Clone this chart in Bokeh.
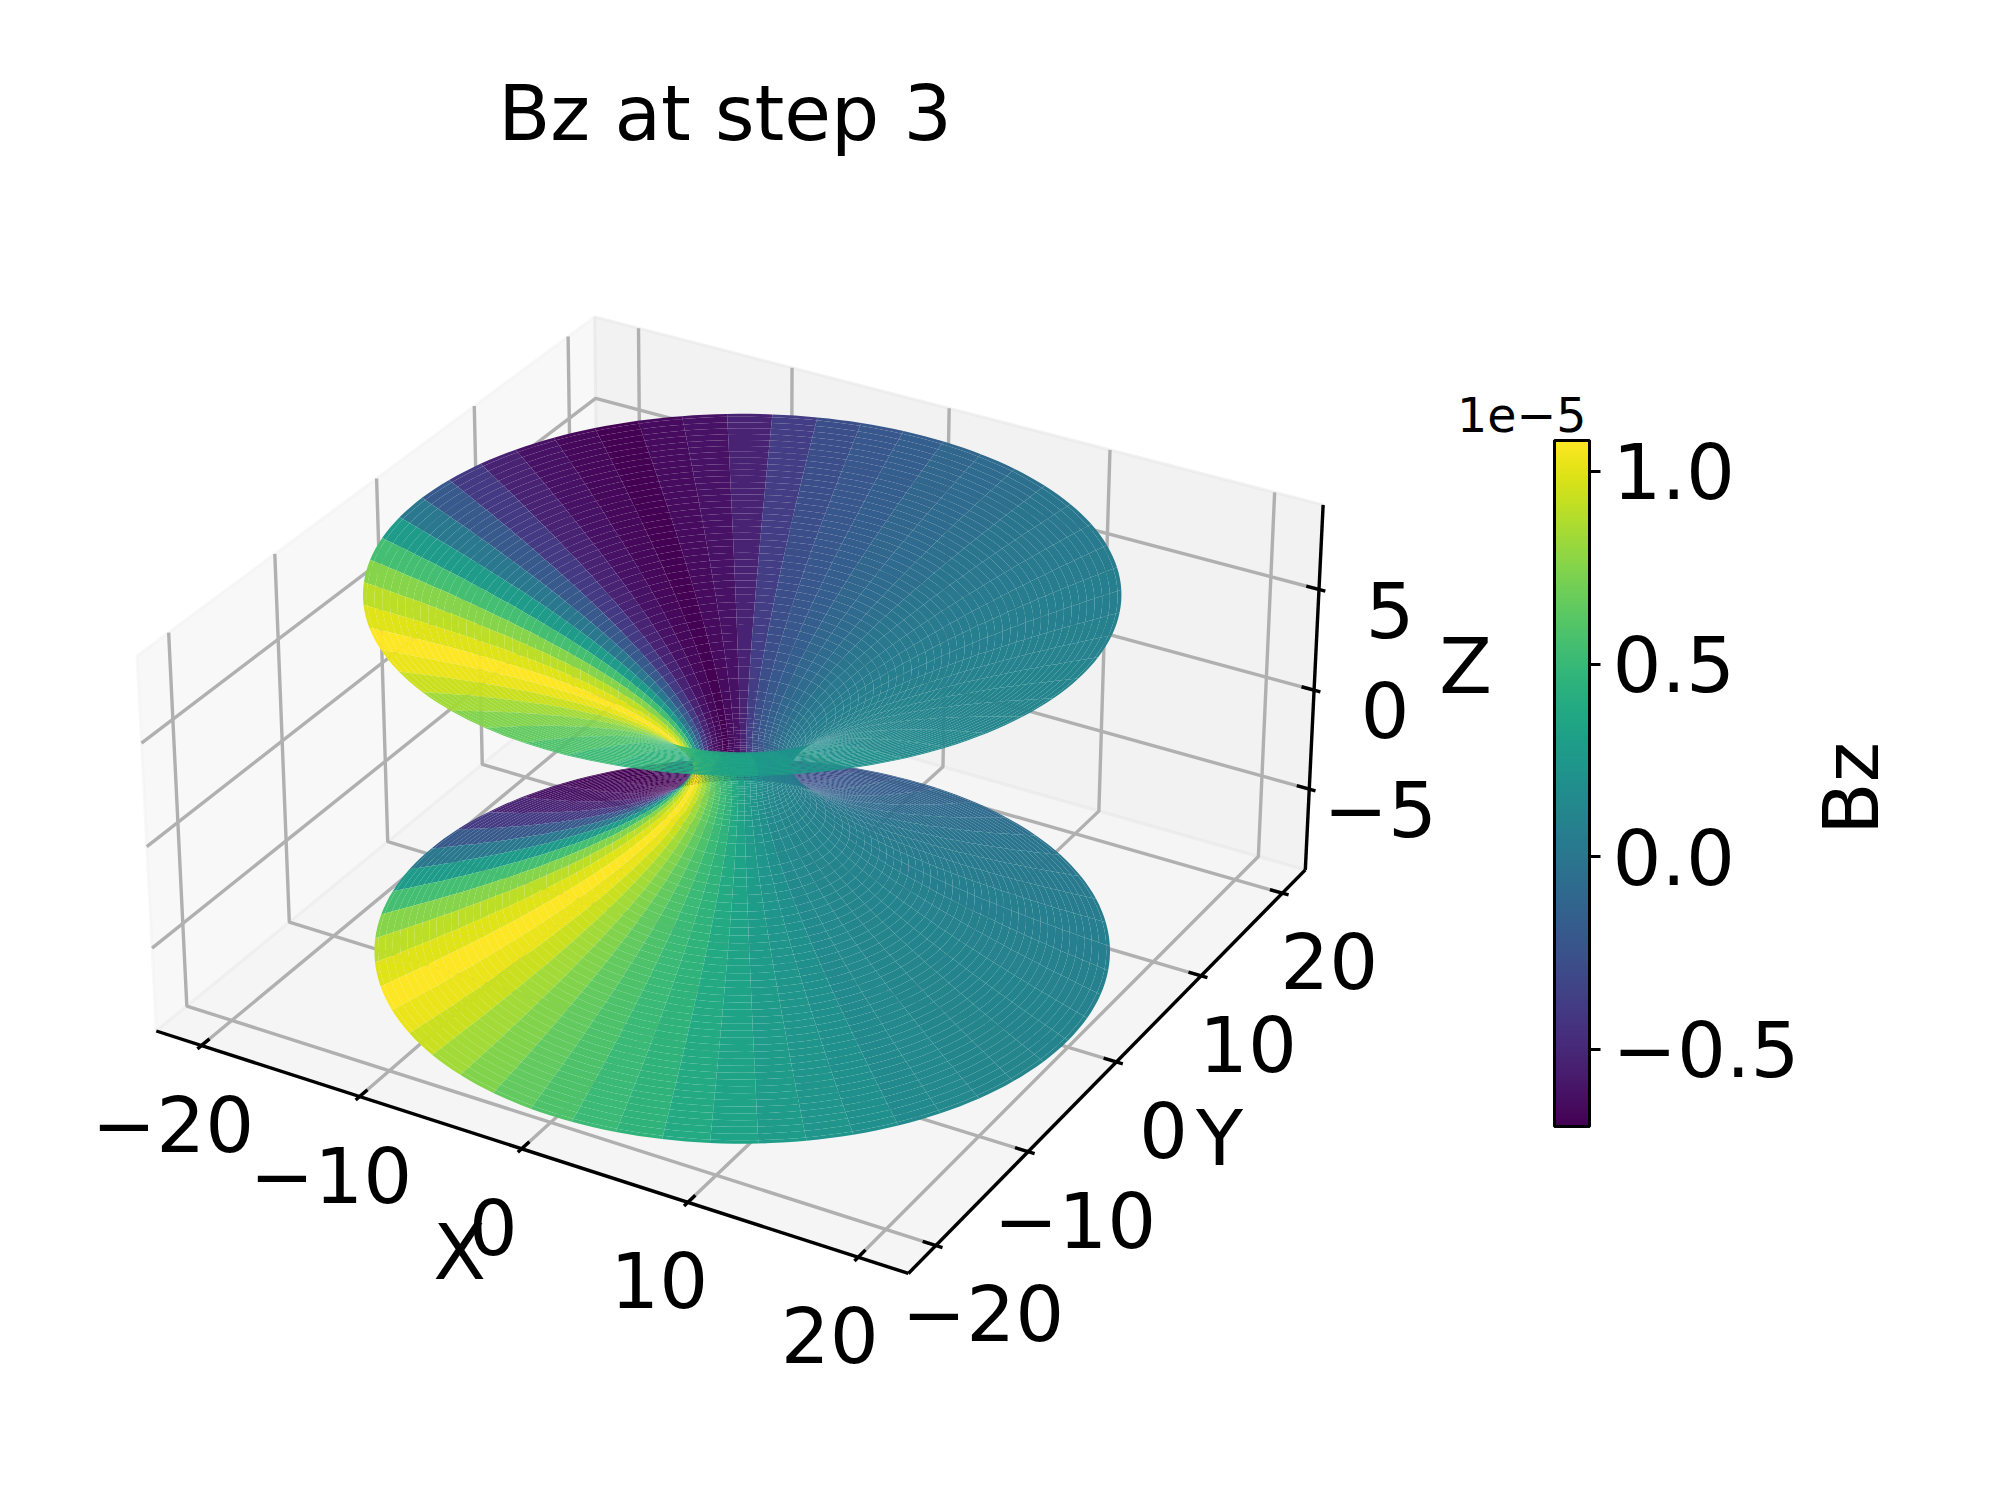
import math
from bokeh.plotting import figure
from bokeh.models import ColumnDataSource, Range1d, LinearColorMapper, ColorBar, FixedTicker
from bokeh.palettes import Viridis256
from bokeh.core.properties import value
from bokeh.embed import file_html
from bokeh.resources import INLINE

# ---- data -----------------------------------------------------------------
title_text = "Bz at step 3"
x_ticks = [-20, -10, 0, 10, 20]
y_ticks = [-20, -10, 0, 10, 20]
z_ticks = [-5, 0, 5]
x_tick_labels = ["\u221220", "\u221210", "0", "10", "20"]
y_tick_labels = ["\u221220", "\u221210", "0", "10", "20"]
z_tick_labels = ["\u22125", "0", "5"]
cbar_ticks = [-0.5, 0.0, 0.5, 1.0]
cbar_labels = {-0.5: "\u22120.5", 0.0: "0.0", 0.5: "0.5", 1.0: "1.0"}
bz_low, bz_high = -0.70, 1.08

# funnel profile: ring radius and ring height above the throat
ring_r = [2.60, 2.62, 2.65, 2.70, 2.76, 2.84, 2.94, 3.06, 3.2, 3.4, 3.7, 4.0, 4.5,
          5.0, 5.4, 5.8, 6.2, 6.6, 7.0, 7.4, 7.8, 8.2, 8.6, 9.0, 9.4, 9.8, 10.2, 10.6,
          11.0, 11.4, 11.8, 12.2, 12.6, 13.0, 13.4, 13.8, 14.2, 14.6, 15.0, 15.4, 15.8,
          16.2, 16.6, 17.0, 17.4, 17.8, 18.2, 18.6, 19.0, 19.4, 19.8, 20.0]
ring_z = [0.0, 0.15, 0.26, 0.40, 0.53, 0.67, 0.83, 0.99, 1.17, 1.39, 1.68, 1.94, 2.33,
          2.68, 2.94, 3.18, 3.42, 3.64, 3.86, 4.06, 4.26, 4.46, 4.65, 4.83, 5.01, 5.18, 5.35, 5.52,
          5.68, 5.85, 6.00, 6.16, 6.32, 6.46, 6.60, 6.75, 6.90, 7.04, 7.18, 7.32, 7.46,
          7.59, 7.72, 7.86, 7.99, 8.11, 8.24, 8.37, 8.49, 8.62, 8.74, 8.80]

# Bz (in 1e-5) for each of the 50 sectors round the axis, starting at phi = 0
sector_bz = [0.10, 0.09, 0.08, 0.07, 0.07, 0.05, 0.03, 0.01, -0.01, -0.04,
             -0.08, -0.11, -0.17, -0.22, -0.27, -0.38, -0.52, -0.61, -0.65, -0.70,
             -0.66, -0.61, -0.52, -0.40, -0.20, 0.01, 0.28, 0.55, 0.76, 0.90,
             0.99, 1.08, 1.03, 0.94, 0.83, 0.74, 0.65, 0.58, 0.51, 0.46,
             0.39, 0.33, 0.28, 0.23, 0.19, 0.15, 0.14, 0.12, 0.11, 0.10]

# ---- 3D view (elevation 30, azimuth -60, box aspect 2:2:1) ------------------
XL, ZL = 22.9, 9.14
BX, BZ = 1.2705, 0.6352
DIST = 10.0
U = (0.8660254, 0.5, 0.0)
V = (-0.25, 0.4330127, 0.8660254)
N = (0.4330127, -0.75, 0.5)


def project(x, y, z):
    qx, qy, qz = x / XL * BX / 2, y / XL * BX / 2, z / ZL * BZ / 2
    depth = DIST - (qx * N[0] + qy * N[1] + qz * N[2])
    return ((qx * U[0] + qy * U[1]) / depth,
            (qx * V[0] + qy * V[1] + qz * V[2]) / depth,
            depth)


# picture pixel <-> view plane
SCALE, OX, OY = 6723.0, 741.7, 766.3


def sx(px):
    return (px - OX) / SCALE


def sy(py):
    return (OY - py) / SCALE


p = figure(width=1984, height=1484, output_backend="svg", toolbar_location=None,
           x_range=Range1d(sx(0), sx(1984)), y_range=Range1d(sy(1484), sy(0)),
           x_axis_type=None, y_axis_type=None, min_border=0, outline_line_color=None)


def path3(points):
    pts = [project(*q) for q in points]
    return [a[0] for a in pts], [a[1] for a in pts]


# panes
L = XL
for corners, col in (
    ([(-L, -L, -ZL), (-L, L, -ZL), (-L, L, ZL), (-L, -L, ZL)], "#f2f2f2"),
    ([(-L, L, -ZL), (L, L, -ZL), (L, L, ZL), (-L, L, ZL)], "#e6e6e6"),
    ([(-L, -L, -ZL), (L, -L, -ZL), (L, L, -ZL), (-L, L, -ZL)], "#ececec"),
):
    xs, ys = path3(corners)
    p.patch(xs, ys, fill_color=col, fill_alpha=0.5, line_color=col, line_alpha=0.5, line_width=3)

# grid lines
GRID = dict(line_color="#b0b0b0", line_width=3.4)
for t in x_ticks:
    xs, ys = path3([(t, -L, -ZL), (t, L, -ZL), (t, L, ZL)])
    p.line(xs, ys, **GRID)
for t in y_ticks:
    xs, ys = path3([(L, t, -ZL), (-L, t, -ZL), (-L, t, ZL)])
    p.line(xs, ys, **GRID)
for t in z_ticks:
    xs, ys = path3([(-L, -L, t), (-L, L, t), (L, L, t)])
    p.line(xs, ys, **GRID)

# axis lines and tick marks
AX = dict(line_color="black", line_width=3.4)
for seg in ([(-L, -L, -ZL), (L, -L, -ZL)], [(L, -L, -ZL), (L, L, -ZL)], [(L, L, -ZL), (L, L, ZL)]):
    xs, ys = path3(seg)
    p.line(xs, ys, **AX)
DELTA = 2 * XL / 12
for t in x_ticks:
    xs, ys = path3([(t, -L + 0.2 * DELTA, -ZL), (t, -L - 0.1 * DELTA, -ZL)])
    p.line(xs, ys, **AX)
for t in y_ticks:
    xs, ys = path3([(L - 0.2 * DELTA, t, -ZL), (L + 0.1 * DELTA, t, -ZL)])
    p.line(xs, ys, **AX)
for t in z_ticks:
    xs, ys = path3([(L - 0.2 * DELTA, L, t), (L + 0.1 * DELTA, L, t)])
    p.line(xs, ys, **AX)

# surface: every cell's two arcs are rounded with a few extra vertices so the rim stays smooth
mapper = LinearColorMapper(palette=Viridis256, low=bz_low, high=bz_high)
profile = [(r, -z) for r, z in zip(reversed(ring_r), reversed(ring_z))] + list(zip(ring_r[1:], ring_z[1:]))
n_sec = len(sector_bz)
step = 2 * math.pi / n_sec
ARC = [0.0, 0.25, 0.5, 0.75, 1.0]
quads = []
for j in range(len(profile) - 1):
    r0, z0 = profile[j]
    r1, z1 = profile[j + 1]
    for i, val in enumerate(sector_bz):
        angles = [(i + f) * step for f in ARC]
        corners = [(r0 * math.cos(a), r0 * math.sin(a), z0) for a in angles] + \
                  [(r1 * math.cos(a), r1 * math.sin(a), z1) for a in reversed(angles)]
        pts = [project(*c) for c in corners]
        quads.append((sum(q[2] for q in pts) / len(pts), [q[0] for q in pts], [q[1] for q in pts], val))
quads.sort(key=lambda q: -q[0])
surf = ColumnDataSource(dict(xs=[q[1] for q in quads], ys=[q[2] for q in quads], bz=[q[3] for q in quads]))
p.patches("xs", "ys", source=surf, fill_color={"field": "bz", "transform": mapper}, line_color=None)

# texts
FONT = value("DejaVu Sans")
TICK_PX = "77px"


def labels(xs, ys, texts, dx, dy, size=TICK_PX, angle=0.0, align="center"):
    src = ColumnDataSource(dict(x=xs, y=ys, t=texts))
    p.text("x", "y", text="t", source=src, x_offset=dx, y_offset=dy, angle=angle,
           text_font=FONT, text_font_size=size, text_align=align, text_baseline="middle",
           text_color="black")


pts = [project(t, -L, -ZL) for t in x_ticks]
labels([a[0] for a in pts], [a[1] for a in pts], x_tick_labels, -28.5, 78)
pts = [project(L, t, -ZL) for t in y_ticks]
labels([a[0] for a in pts], [a[1] for a in pts], y_tick_labels, 47, 68)
pts = [project(L, L, t) for t in z_ticks]
labels([a[0] for a in pts], [a[1] for a in pts], z_tick_labels, 71, 20)

labels([sx(724.5)], [sy(112.5)], [title_text], 0, 0, size="76px")
labels([sx(459)], [sy(1252)], ["X"], 0, 0)
labels([sx(1219)], [sy(1138)], ["Y"], 0, 0)
labels([sx(1465)], [sy(666)], ["Z"], 0, 0)
labels([sx(1851)], [sy(788)], ["Bz"], 0, 0, angle=math.pi / 2)
labels([sx(1586)], [sy(414)], ["1e\u22125"], 0, 0, size="47.5px", align="right")

# colour bar
bar = ColorBar(color_mapper=mapper, location=(1554, 358), width=35, height=686, padding=0, margin=0,
               ticker=FixedTicker(ticks=cbar_ticks), major_label_overrides=cbar_labels,
               major_label_text_font="DejaVu Sans", major_label_text_font_size=TICK_PX,
               major_label_text_color="black",
               major_tick_in=0, major_tick_out=11, major_tick_line_color="black", major_tick_line_width=3,
               minor_tick_line_color=None, bar_line_color="black", bar_line_width=3,
               border_line_color=None, background_fill_color=None, label_standoff=12)
p.add_layout(bar, "center")

open("out.html", "w").write(file_html(p, INLINE))
